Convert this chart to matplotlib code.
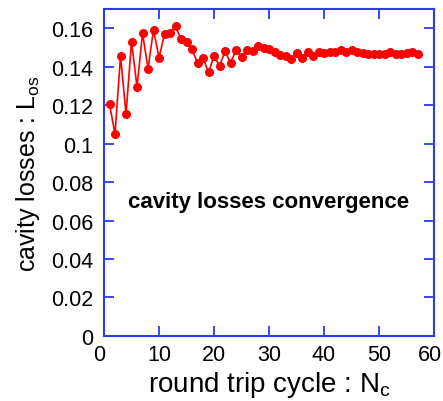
import numpy as np
import matplotlib
matplotlib.use("Agg")
import matplotlib.pyplot as plt
import matplotlib.transforms as mtransforms
from matplotlib.ticker import FuncFormatter

plt.rcParams['font.family'] = ['Liberation Sans', 'DejaVu Sans']
plt.rcParams['mathtext.fontset'] = 'custom'
plt.rcParams['mathtext.rm'] = 'Liberation Sans'

# cavity losses per round trip
cycles = np.arange(1, 58)
losses = [0.1205, 0.105, 0.1456, 0.1153, 0.1531, 0.1295, 0.1574, 0.139, 0.1592, 0.1447,
          0.1569, 0.1577, 0.161, 0.1543, 0.153, 0.149, 0.142, 0.1447, 0.137, 0.1456,
          0.1404, 0.148, 0.142, 0.1487, 0.1453, 0.1487, 0.148, 0.1508, 0.1495, 0.149,
          0.1477, 0.146, 0.1456, 0.1439, 0.147, 0.1447, 0.1477, 0.1456, 0.1475, 0.147,
          0.1475, 0.1478, 0.1485, 0.1478, 0.1485, 0.1475, 0.147, 0.1465, 0.1465, 0.1468,
          0.1468, 0.1475, 0.1468, 0.1465, 0.147, 0.1475, 0.1468]

xticks = [0, 10, 20, 30, 40, 50, 60]
yticks = [0, 0.02, 0.04, 0.06, 0.08, 0.1, 0.12, 0.14, 0.16]

fig = plt.figure(figsize=(4.43, 4.02), dpi=100)
ax = fig.add_axes([0.2348, 0.162, 0.745, 0.813])

ax.plot(cycles, losses, color='red', lw=1.2, marker='o', ms=6.5,
        markeredgewidth=0)

ax.set_xlim(0, 60)
ax.set_ylim(0, 0.17)
ax.set_xticks(xticks)
ax.set_yticks(yticks)
ax.yaxis.set_major_formatter(FuncFormatter(lambda v, p: '%g' % v))

blue = '#2a3cf0'
for s in ax.spines.values():
    s.set_color(blue)
    s.set_linewidth(1.5)
ax.tick_params(direction='in', length=7.5, width=1.3, color=blue,
               top=True, right=True, labelsize=15.5)
ax.tick_params(axis='y', pad=8)
ax.tick_params(axis='x', pad=6)

# nudge the end labels inward so "60" stays on the canvas
shift = mtransforms.ScaledTranslation(-0.045, 0, fig.dpi_scale_trans)
for t in (ax.xaxis.get_major_ticks()[0], ax.xaxis.get_major_ticks()[-1]):
    t.label1.set_transform(t.label1.get_transform() + shift)

ax.set_xlabel('round trip cycle : N$_{\\rm c}$', fontsize=20, labelpad=3)
ax.set_ylabel('cavity losses : L$_{\\rm os}$', fontsize=18, labelpad=6)

ax.text(30, 0.07, 'cavity losses convergence', fontsize=16,
        fontweight='bold', ha='center', va='center')

fig.savefig('out.png', dpi=100)
